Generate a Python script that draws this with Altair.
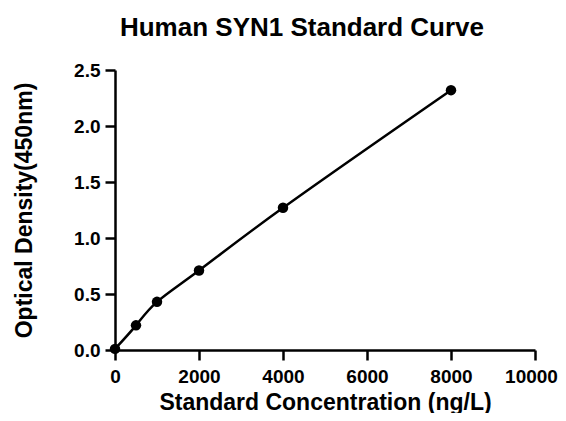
import altair as alt
import pandas as pd

conc = [0, 500, 1000, 2000, 4000, 8000]
od = [0.01, 0.22, 0.43, 0.71, 1.27, 2.32]
x_ticks = [0, 2000, 4000, 6000, 8000, 10000]
y_ticks = [0, 0.5, 1.0, 1.5, 2.0, 2.5]

df = pd.DataFrame({"conc": conc, "od": od})

FONT = "Liberation Sans"

x = alt.X("conc:Q", scale=alt.Scale(domain=[0, 10000], nice=False),
          axis=alt.Axis(title="Standard Concentration (ng/L)", values=x_ticks, format="d",
                        grid=False, domainColor="black", domainWidth=2.5, tickColor="black", tickWidth=2.5,
                        tickSize=10, labelFont=FONT, labelFontSize=19, labelFontWeight="bold",
                        labelColor="black", titleFont=FONT, titleFontSize=23, titleFontWeight="bold",
                        titleColor="black", labelPadding=7, titlePadding=5, labelFlush=False,
                        labelOffset={"condition": {"test": "datum.value == 10000", "value": -4}, "value": 0}))
y = alt.Y("od:Q", scale=alt.Scale(domain=[0, 2.5], nice=False),
          axis=alt.Axis(title="Optical Density(450nm)", values=y_ticks, format=".1f",
                        grid=False, domainColor="black", domainWidth=2.5, tickColor="black", tickWidth=2.5,
                        tickSize=10, labelFont=FONT, labelFontSize=19, labelFontWeight="bold",
                        labelColor="black", titleFont=FONT, titleFontSize=23, titleFontWeight="bold",
                        titleColor="black", labelPadding=5, titlePadding=37, labelFlush=False))

line = alt.Chart(df).mark_line(color="black", strokeWidth=2.5, interpolate="natural").encode(x=x, y=y)
pts = alt.Chart(df).mark_point(filled=True, color="black", size=110, opacity=1).encode(x=x, y=y)

chart = (line + pts).properties(
    width=420, height=280,
    autosize=alt.AutoSizeParams(type="none"),
    title=alt.TitleParams("Human SYN1 Standard Curve", font=FONT, fontSize=26, fontWeight="bold",
                          color="black", anchor="middle", frame="group", offset=20, dx=-23),
    padding={"left": 107, "right": 23, "top": 62, "bottom": 63},
).configure_view(stroke=None)

chart.save("out.html", embed_options={"renderer": "svg", "actions": False})
